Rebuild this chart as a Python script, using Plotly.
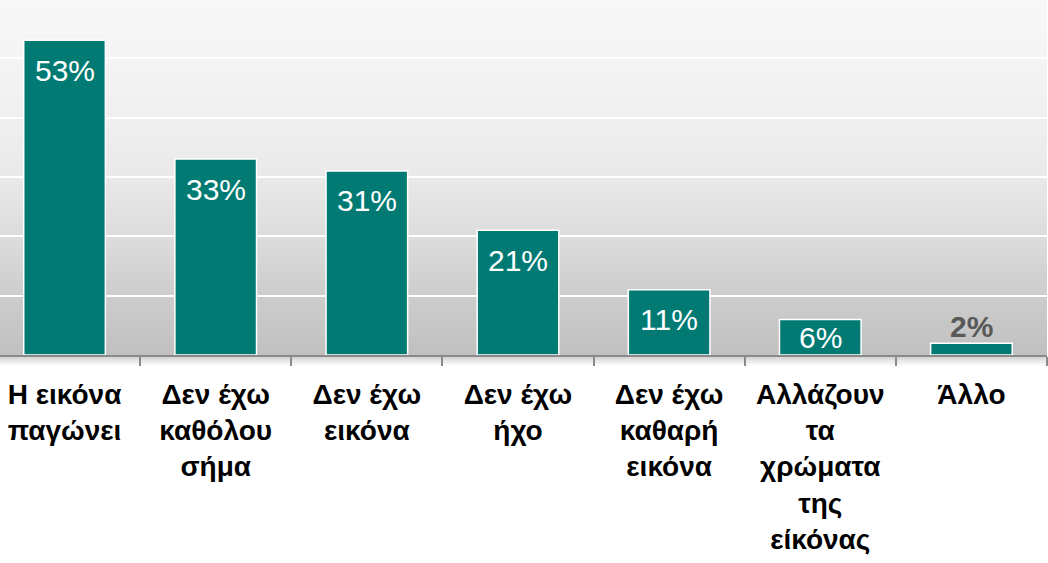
import plotly.graph_objects as go
import numpy as np

# ---- data ----
categories = [
    "Η εικόνα<br>παγώνει",
    "Δεν έχω<br>καθόλου<br>σήμα",
    "Δεν έχω<br>εικόνα",
    "Δεν έχω<br>ήχο",
    "Δεν έχω<br>καθαρή<br>εικόνα",
    "Αλλάζουν<br>τα<br>χρώματα<br>της<br>είκόνας",
    "Άλλο",
]
values = [53, 33, 31, 21, 11, 6, 2]
value_labels = ["53%", "33%", "31%", "21%", "11%", "6%", "2%"]
inside_flags = [True, True, True, True, True, True, False]
grid_values = [10, 20, 30, 40, 50]

BAR = "#007A73"
W, H = 1048, 563
M_L, M_R, M_T, M_B = 0, 1, 0, 208
plot_h = H - M_T - M_B
Y_MAX = 59.8
px_per_unit = plot_h / Y_MAX

fig = go.Figure()

fig.add_trace(go.Bar(
    x=categories, y=values,
    marker=dict(color=BAR, line=dict(color="white", width=1.5)),
    width=0.54,
    hoverinfo="skip",
))

# gradient background of the plot area (bands)
stops_f = [0.0, 0.17, 0.33, 0.5, 0.67, 1.0]
stops_v = [192, 205, 220, 233, 240, 248]
n = 90
shapes = []
for i in range(n):
    f0 = i / n
    f1 = (i + 1) / n
    v = int(round(np.interp((f0 + f1) / 2, stops_f, stops_v)))
    shapes.append(dict(type="rect", xref="paper", yref="paper",
                       x0=0, x1=1, y0=f0, y1=f1 + 0.002,
                       fillcolor=f"rgb({v},{v},{v})", line=dict(width=0),
                       layer="below"))
# soft shadow beneath the axis
sh = 12
for i in range(sh):
    v = int(round(200 + (255 - 200) * (i / (sh - 1)) ** 0.8))
    shapes.append(dict(type="rect", xref="paper", yref="paper",
                       x0=0, x1=1, y0=-(i + 1) / plot_h, y1=-i / plot_h,
                       fillcolor=f"rgb({v},{v},{v})", line=dict(width=0),
                       layer="below"))

annotations = []
for c, v, lab, inside in zip(categories, values, value_labels, inside_flags):
    bar_px = v * px_per_unit
    shift = -min(30, bar_px / 2) if inside else 17
    annotations.append(dict(
        x=c, y=v, xref="x", yref="y", text=lab, showarrow=False,
        yanchor="middle", yshift=shift,
        font=dict(family="Liberation Sans, Arial, sans-serif", size=30,
                  color="white" if inside else "#595959",
                  weight="normal" if inside else "bold"),
    ))

fig.update_layout(
    width=W, height=H,
    margin=dict(l=M_L, r=M_R, t=M_T, b=M_B, pad=0),
    paper_bgcolor="white",
    plot_bgcolor="rgba(0,0,0,0)",
    showlegend=False,
    shapes=shapes,
    annotations=annotations,
    xaxis=dict(
        type="category",
        range=[-0.427, 6.5],
        tickson="boundaries",
        ticks="outside", ticklen=9, tickwidth=2, tickcolor="#8a8a8a",
        showline=True, linecolor="#8a8a8a", linewidth=2,
        showgrid=False,
        tickfont=dict(family="Liberation Sans, Arial, sans-serif", size=28,
                      color="black", weight="bold"),
        ticklabelstandoff=13,
        fixedrange=True,
    ),
    yaxis=dict(
        range=[0, Y_MAX],
        tickvals=grid_values,
        showticklabels=False,
        showgrid=True, gridcolor="white", gridwidth=1.5,
        zeroline=False, showline=False, ticks="",
        fixedrange=True,
    ),
)

fig.write_html("out.html", config={"displayModeBar": False},
               post_script="document.body.style.margin='0';")
